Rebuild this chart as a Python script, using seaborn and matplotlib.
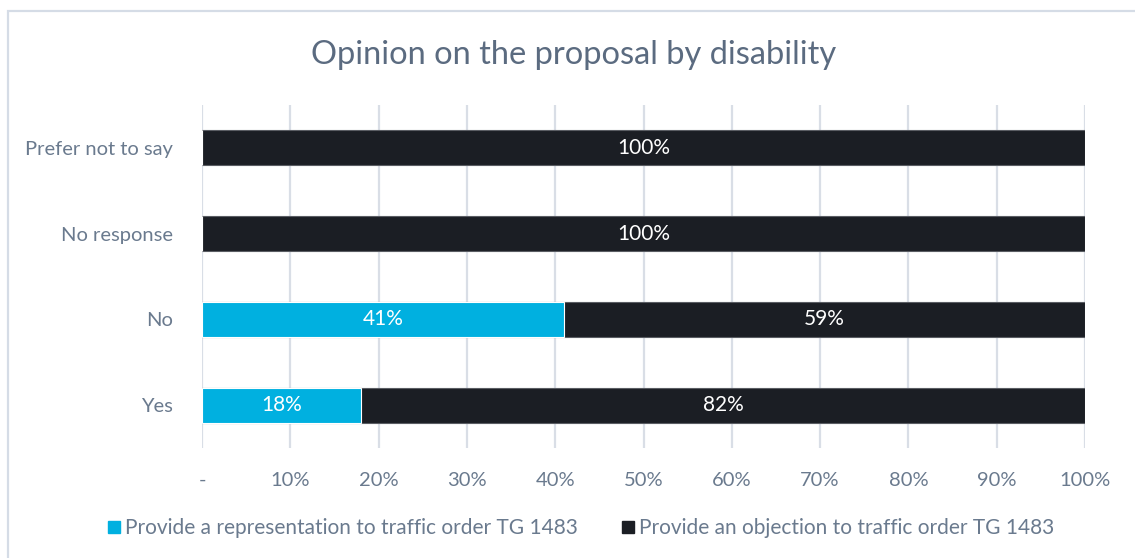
import matplotlib
matplotlib.use("Agg")
import matplotlib.pyplot as plt
from matplotlib.patches import Rectangle
from matplotlib.lines import Line2D
import seaborn as sns
import pandas as pd

categories = ["Prefer not to say", "No response", "No", "Yes"]
representation = [0, 0, 41, 18]
objection = [100, 100, 59, 82]
tick_values = [0, 10, 20, 30, 40, 50, 60, 70, 80, 90, 100]
tick_labels = ["-", "10%", "20%", "30%", "40%", "50%", "60%", "70%", "80%", "90%", "100%"]
series_names = ["Provide a representation to traffic order TG 1483",
                "Provide an objection to traffic order TG 1483"]

BLUE = "#00B0E0"
DARK = "#1B1E24"
TEXT = "#6A7A8E"
TITLE = "#5B6B80"
GRID = "#D9DEE6"

sns.set_theme(style="white")
plt.rcParams["font.family"] = ["Lato", "DejaVu Sans"]

df = pd.DataFrame({"category": categories,
                   "representation": representation,
                   "objection": objection})
df["total"] = df["representation"] + df["objection"]

fig = plt.figure(figsize=(11.35, 5.58), dpi=100)
ax = fig.add_axes([202 / 1135, 1 - 448 / 558, (1085 - 202) / 1135, (448 - 105) / 558])

# stacked horizontal bars: full length first, then the first segment on top
sns.barplot(data=df, y="category", x="total", order=categories, color=DARK,
            width=0.41, saturation=1, edgecolor="#5a5d63", linewidth=0.8, ax=ax)
sns.barplot(data=df, y="category", x="representation", order=categories, color=BLUE,
            width=0.41, saturation=1, edgecolor="white", linewidth=0.8, ax=ax)

for i, (r, o) in enumerate(zip(representation, objection)):
    if r > 0:
        ax.text(r / 2, i, f"{r}%", ha="center", va="center", color="white", fontsize=15)
    if o > 0:
        ax.text(r + o / 2, i, f"{o}%", ha="center", va="center", color="white", fontsize=15)

ax.set_xlim(0, 100)
ax.set_ylim(3.5, -0.5)
ax.set_xticks(tick_values)
ax.set_xticklabels(tick_labels)
ax.set_xlabel("")
ax.set_ylabel("")
for v in tick_values:
    ax.axvline(v, color=GRID, linewidth=1.6, zorder=0)
for s in ax.spines.values():
    s.set_visible(False)
ax.tick_params(axis="x", length=0, pad=17, labelsize=14.5, labelcolor=TEXT)
ax.tick_params(axis="y", length=0, pad=21, labelsize=14.5, labelcolor=TEXT)

fig.text(574 / 1135, 1 - 55 / 558, "Opinion on the proposal by disability",
         ha="center", va="center", fontsize=23.5, color=TITLE)

handles = [Line2D([], [], marker="s", linestyle="none", markersize=9,
                  markerfacecolor=BLUE, markeredgecolor=BLUE),
           Line2D([], [], marker="s", linestyle="none", markersize=9,
                  markerfacecolor=DARK, markeredgecolor=DARK)]
fig.legend(handles, series_names, loc="center", bbox_to_anchor=(580 / 1135, 1 - 528 / 558),
           ncol=2, frameon=False, fontsize=15, labelcolor=TEXT, handletextpad=0.15,
           columnspacing=2.0, handlelength=0.8)

# outer chart frame
fig.patches.append(Rectangle((8 / 1135, -0.1), 1.2, 1 - 11 / 558 + 0.1,
                             transform=fig.transFigure, fill=False,
                             edgecolor="#D5DCE6", linewidth=1.6))

fig.savefig("out.png", dpi=100)
